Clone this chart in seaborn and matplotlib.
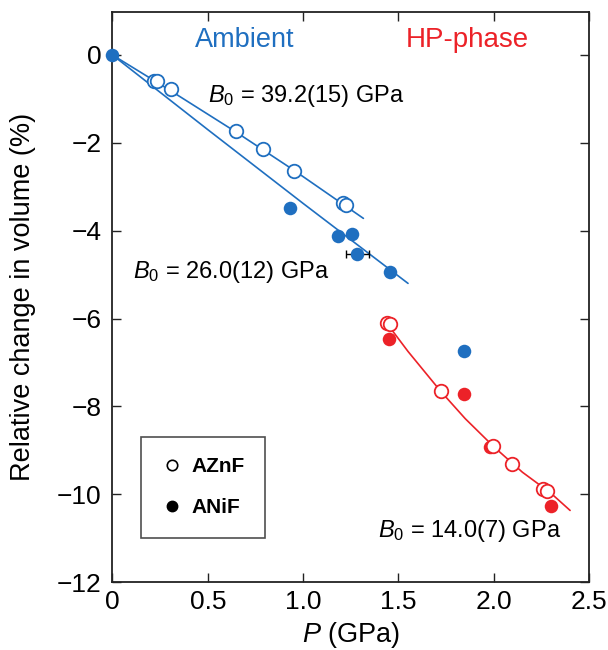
import numpy as np
import pandas as pd
import matplotlib
matplotlib.use('Agg')
from matplotlib import pyplot
from matplotlib.lines import Line2D
import seaborn as sns

# --- data ---
# AZnF (open), ambient phase
azn_amb_p = [0.22, 0.235, 0.305, 0.646, 0.79, 0.952, 1.211, 1.225]
azn_amb_v = [-0.59, -0.59, -0.78, -1.73, -2.13, -2.64, -3.38, -3.42]
# ANiF (filled), ambient phase
ani_amb_p = [0.0, 0.931, 1.181, 1.255, 1.283, 1.456, 1.844]
ani_amb_v = [0.0, -3.49, -4.11, -4.08, -4.52, -4.93, -6.73]
# AZnF (open), HP phase
azn_hp_p = [1.442, 1.456, 1.723, 1.998, 2.096, 2.26, 2.281]
azn_hp_v = [-6.10, -6.13, -7.66, -8.91, -9.32, -9.88, -9.93]
# ANiF (filled), HP phase
ani_hp_p = [1.452, 1.844, 1.981, 2.302]
ani_hp_v = [-6.46, -7.73, -8.93, -10.27]

# error bar on one ANiF point
err_p, err_v, err_dp = 1.283, -4.52, 0.06

# fitted EOS curves (traced)
fit_azn_p = [0.0, 0.3, 0.65, 0.95, 1.316]
fit_azn_v = [0.0, -0.80, -1.76, -2.62, -3.72]
fit_ani_p = [0.0, 0.5, 1.0, 1.55]
fit_ani_v = [0.0, -1.70, -3.38, -5.20]
fit_hp_p = [1.42, 1.55, 1.72, 1.85, 2.0, 2.15, 2.3, 2.40]
fit_hp_v = [-6.0, -6.75, -7.65, -8.28, -8.92, -9.5, -9.98, -10.37]

BLUE = '#1f6fc0'
RED = '#ec2228'

sns.set_style("ticks")
pyplot.rcParams['font.family'] = ['Liberation Sans', 'DejaVu Sans']
pyplot.rcParams['mathtext.fontset'] = 'custom'
pyplot.rcParams['mathtext.rm'] = 'Liberation Sans'
pyplot.rcParams['mathtext.it'] = 'Liberation Sans:italic'
pyplot.rcParams['text.color'] = 'black'
pyplot.rcParams['axes.labelcolor'] = 'black'
pyplot.rcParams['xtick.labelcolor'] = 'black'
pyplot.rcParams['ytick.labelcolor'] = 'black'

fig = pyplot.figure(figsize=(6.08, 6.5), dpi=100)
ax = fig.add_axes([0.185, 0.1046, 0.784, 0.877])

for px, py, c in [(fit_azn_p, fit_azn_v, BLUE), (fit_ani_p, fit_ani_v, BLUE), (fit_hp_p, fit_hp_v, RED)]:
	sns.lineplot(x=px, y=py, ax=ax, color=c, linewidth=1.2, sort=False, zorder=1)

ax.errorbar([err_p], [err_v], xerr=[err_dp], fmt='none', ecolor='black', elinewidth=1.0, capsize=3, capthick=1.0, zorder=2)

ms = 95
sns.scatterplot(x=azn_amb_p, y=azn_amb_v, ax=ax, s=ms, facecolor='white', edgecolor=BLUE, linewidth=1.3, zorder=3)
sns.scatterplot(x=ani_amb_p, y=ani_amb_v, ax=ax, s=ms, color=BLUE, edgecolor=BLUE, linewidth=0, zorder=3, clip_on=False)
sns.scatterplot(x=ani_hp_p, y=ani_hp_v, ax=ax, s=ms, color=RED, edgecolor=RED, linewidth=0, zorder=3)
sns.scatterplot(x=azn_hp_p, y=azn_hp_v, ax=ax, s=ms, facecolor='white', edgecolor=RED, linewidth=1.3, zorder=3)

ax.set_xlim(0, 2.5)
ax.set_ylim(-12, 0.98)
ax.set_xticks([0, 0.5, 1.0, 1.5, 2.0, 2.5])
ax.set_xticklabels(['0', '0.5', '1.0', '1.5', '2.0', '2.5'])
ax.set_yticks([0, -2, -4, -6, -8, -10, -12])
ax.set_yticklabels(['0', '\u22122', '\u22124', '\u22126', '\u22128', '\u221210', '\u221212'])
ax.tick_params(direction='in', length=6.5, width=1.0, labelsize=19, top=True, right=True, color='#222222')
ax.tick_params(axis='y', pad=8)
ax.tick_params(axis='x', pad=6)
for s in ax.spines.values():
	s.set_linewidth(1.3)
	s.set_color('#222222')

ax.set_xlabel(r'$\it{P}$ (GPa)', fontsize=19.5, labelpad=4)
ax.set_ylabel('Relative change in volume (%)', fontsize=19.5, labelpad=15)

ax.text(0.277, 0.95, 'Ambient', color=BLUE, fontsize=19.5, ha='center', va='center', transform=ax.transAxes)
ax.text(0.745, 0.95, 'HP-phase', color=RED, fontsize=20, ha='center', va='center', transform=ax.transAxes)
ax.text(0.50, -0.93, r'$B_0$ = 39.2(15) GPa', fontsize=17, ha='left', va='center')
ax.text(0.108, -4.93, r'$B_0$ = 26.0(12) GPa', fontsize=17, ha='left', va='center')
ax.text(1.39, -10.84, r'$B_0$ = 14.0(7) GPa', fontsize=17, ha='left', va='center')

handles = [
	Line2D([], [], marker='o', linestyle='none', markersize=7.5, markerfacecolor='white', markeredgecolor='black', markeredgewidth=1.2),
	Line2D([], [], marker='o', linestyle='none', markersize=7.5, markerfacecolor='black', markeredgecolor='black'),
]
leg = ax.legend(handles, ['AZnF', 'ANiF'], loc='lower left', bbox_to_anchor=(0.06, 0.077),
				prop={'weight': 'bold', 'size': 15}, frameon=True, fancybox=False,
				borderpad=1.0, labelspacing=1.05, handletextpad=0.4, handlelength=1.0, borderaxespad=0)
leg.get_frame().set_edgecolor('#222222')
leg.get_frame().set_linewidth(1.2)

pyplot.savefig('out.png', dpi=100)
